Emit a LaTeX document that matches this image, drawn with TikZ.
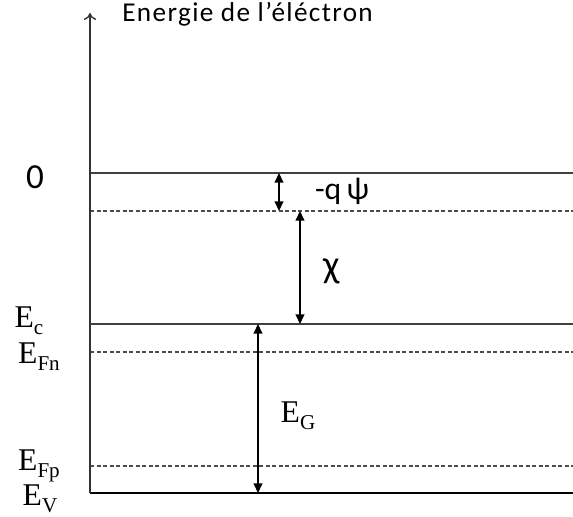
\documentclass[tikz,border=0pt]{standalone}
\usepackage{fontspec}
\setmainfont{Liberation Serif}
\newfontfamily\titlefont[LetterSpace=5]{Carlito}
\newfontfamily\sanslabelfont{Carlito}
\usetikzlibrary{arrows.meta,positioning}
\newcommand\elevel[1]{E\raisebox{-0.5ex}{\fontsize{12}{12}\selectfont #1}}

\begin{document}
\begin{tikzpicture}[x=0.02cm, y=-0.02cm,
  band/.style={draw=black!75, line width=0.9pt},
  fermi/.style={draw=black!70, dash pattern=on 2.5pt off 1.2pt, line width=0.7pt},
  gaparrow/.style={{Triangle[length=5.5pt,width=5pt]}-{Triangle[length=5.5pt,width=5pt]}, line width=0.8pt},
  sanslabel/.style={font=\sanslabelfont\fontsize{18}{20}\selectfont},
  bandlabel/.style={font=\fontsize{18}{20}\selectfont}]
\useasboundingbox (0,0) rectangle (573,516);
% Levels
\def\xl{90}
\def\xr{573}
\def\yvac{173}
\def\ysurf{211}
\def\yc{324}
\def\yfn{352}
\def\yfp{466}
\def\yv{493}

\draw[band] (\xl,\yvac) -- (\xr,\yvac);
\draw[fermi] (\xl,\ysurf) -- (\xr,\ysurf);
\draw[band] (\xl,\yc) -- (\xr,\yc);
\draw[fermi] (\xl,\yfn) -- (\xr,\yfn);
\draw[fermi] (\xl,\yfp) -- (\xr,\yfp);
\draw[black, line width=1.4pt] (\xl,\yv) -- (\xr,\yv);

% Axis
\coordinate (axisbot) at (\xl,\yv);
\coordinate (axistop) at (\xl,13);
\draw[black!80, line width=0.8pt, -{To[length=4pt,width=7pt]}] (axisbot) -- (axistop);
\node[anchor=base west, inner sep=0pt, font=\titlefont\fontsize{15.5}{17}\selectfont] (title) at (122,22) {Energie de l’éléctron};

% Gap arrows
\coordinate (psitop) at (279,\yvac);
\coordinate (psibot) at (279,\ysurf);
\coordinate (chitop) at (300,\ysurf);
\coordinate (chibot) at (300,\yc);
\coordinate (gaptop) at (258,\yc);
\coordinate (gapbot) at (258,\yv);
\draw[gaparrow] (psitop) -- (psibot);
\draw[gaparrow] (chitop) -- (chibot);
\draw[gaparrow] (gaptop) -- (gapbot);

\node[sanslabel] (psi) at (342,191) {-q\,ψ};
\node[sanslabel, font=\sanslabelfont\fontsize{22}{24}\selectfont] (chi) at (332,271) {χ};
\node[bandlabel] (eg) at (298,416) {\elevel{G}};

% Level names
\node[font=\sanslabelfont\fontsize{20}{22}\selectfont] (zero) at (35,177) {0};
\node[bandlabel] (ec) at (29,321) {\elevel{c}};
\node[bandlabel] (efn) at (39,357) {\elevel{Fn}};
\node[bandlabel] (efp) at (39,466) {\elevel{Fp}};
\node[bandlabel] (ev) at (40,499) {\elevel{V}};
\end{tikzpicture}
\end{document}
